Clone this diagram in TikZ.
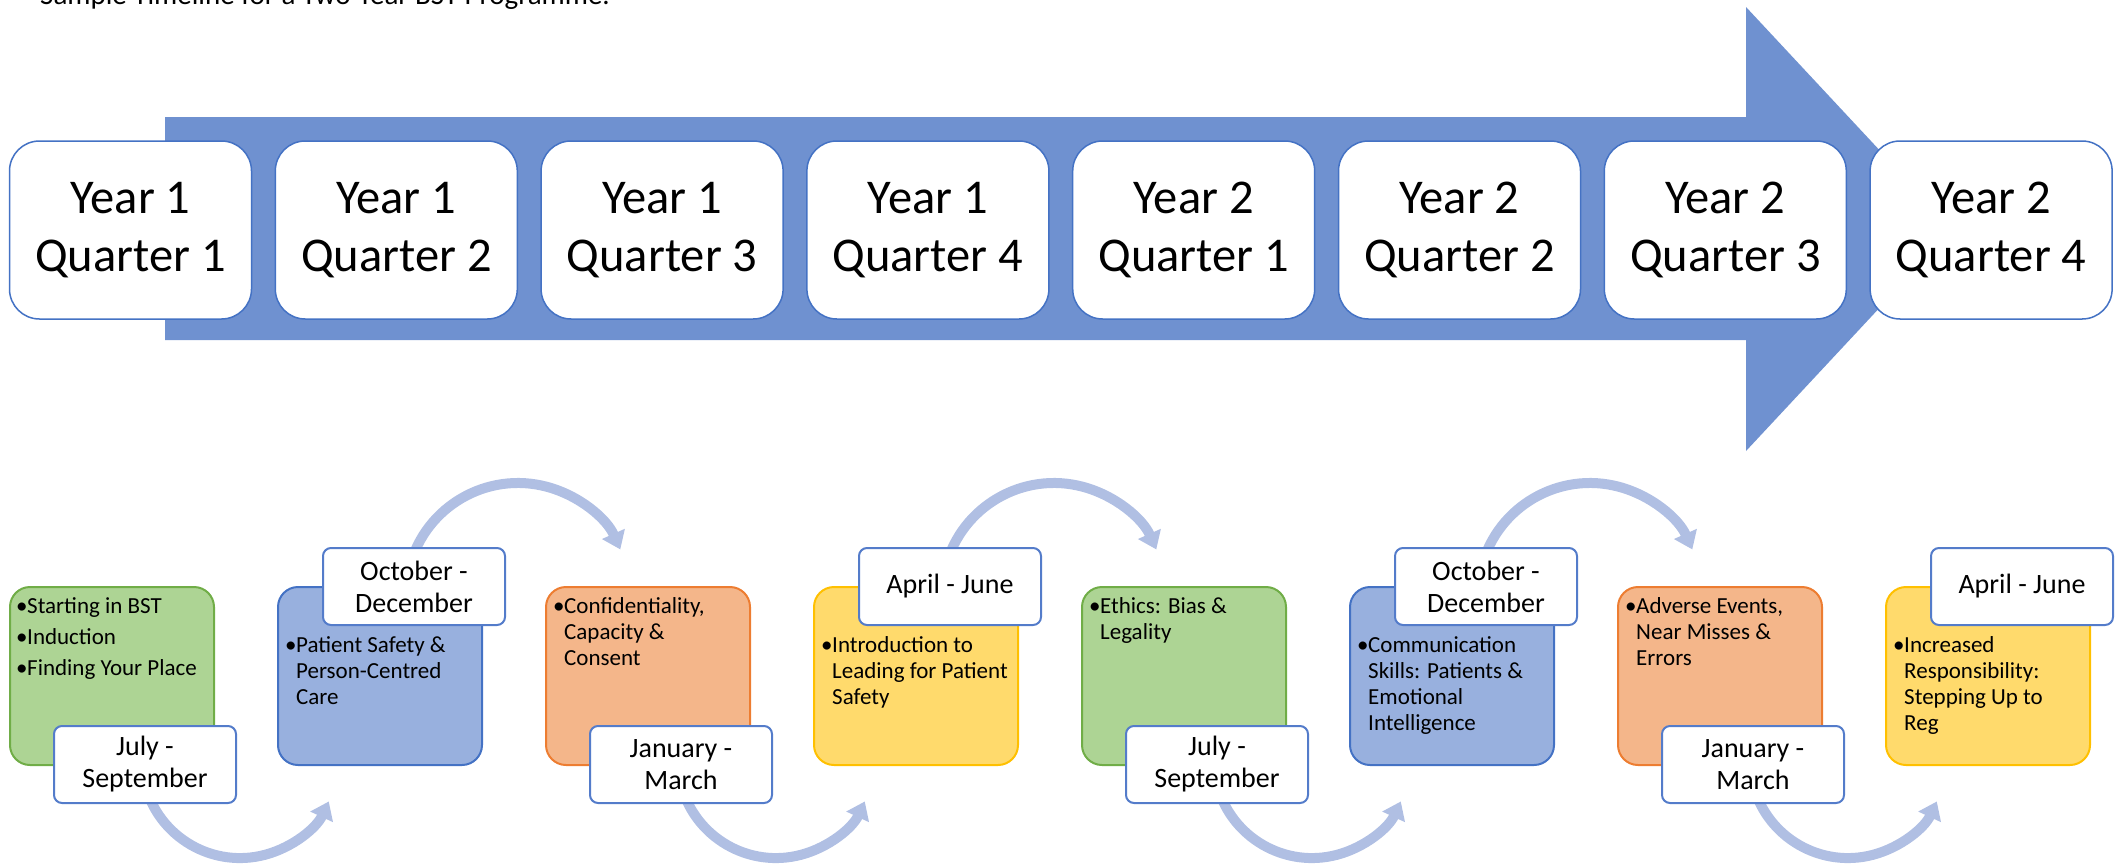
\documentclass[tikz,border=0pt]{standalone}
\usepackage{fontspec}
\setmainfont{Carlito}
\usetikzlibrary{arrows.meta}
\definecolor{arrowblue}{RGB}{111,145,208}
\definecolor{boxline}{RGB}{68,114,196}
\definecolor{lblline}{RGB}{84,124,202}
\definecolor{arcblue}{RGB}{176,191,227}
\definecolor{gfill}{RGB}{173,212,148}
\definecolor{gline}{RGB}{112,173,71}
\definecolor{bfill}{RGB}{152,176,222}
\definecolor{bline}{RGB}{68,114,196}
\definecolor{ofill}{RGB}{244,182,138}
\definecolor{oline}{RGB}{237,125,49}
\definecolor{yfill}{RGB}{255,218,108}
\definecolor{yline}{RGB}{255,192,0}
\newcommand{\bul}[1]{\par\hangindent=11pt\hangafter=1\noindent\makebox[11pt][l]{•}#1}
\newcommand{\btxt}[1]{\parbox[t]{195pt}{\setlength{\parskip}{5pt}#1}}
\begin{document}
\begin{tikzpicture}[x=1pt,y=-1pt,
  topbox/.style={draw=boxline, line width=1.5pt, fill=white, rounded corners=30pt,
    minimum width=242pt, minimum height=178pt, align=center,
    font=\fontsize{48.5}{58}\selectfont, inner sep=0pt},
  cbox/.style={line width=2pt, rounded corners=20pt, minimum width=204pt,
    minimum height=178pt, inner sep=0pt},
  lbl/.style={draw=lblline, line width=2pt, fill=white, rounded corners=8pt,
    minimum width=182pt, minimum height=77pt, align=center,
    font=\fontsize{28}{32}\selectfont, inner sep=0pt},
  btext/.style={anchor=base west, inner sep=0pt, font=\fontsize{23}{26}\selectfont},
  arcarrow/.style={draw=arcblue, line width=10pt, -{Triangle[width=24pt,length=17pt]}}
]
\useasboundingbox (0,0) rectangle (2120,865);

% title (cut by the page edge, as in the reference)
\node[anchor=base west, inner sep=0pt, font=\fontsize{29}{35}\selectfont] (title) at (40,4)
  {Sample Timeline for a Two-Year BST Programme.};

% big arrow
\fill[arrowblue] (165,117) -- (1746,117) -- (1746,7) -- (1953,229) -- (1746,451)
  -- (1746,340) -- (165,340) -- cycle;

% top row
\node[topbox] (q1) at (130.5,230) {Year 1\\Quarter 1};
\node[topbox] (q2) at (396.3,230) {Year 1\\Quarter 2};
\node[topbox] (q3) at (662.1,230) {Year 1\\Quarter 3};
\node[topbox] (q4) at (927.9,230) {Year 1\\Quarter 4};
\node[topbox] (q5) at (1193.7,230) {Year 2\\Quarter 1};
\node[topbox] (q6) at (1459.5,230) {Year 2\\Quarter 2};
\node[topbox] (q7) at (1725.3,230) {Year 2\\Quarter 3};
\node[topbox] (q8) at (1991.1,230) {Year 2\\Quarter 4};

% curved arrows
\coordinate (ba1) at (145.3,785.4);
\coordinate (ba2) at (681.3,785.4);
\coordinate (ba3) at (1217.3,785.4);
\coordinate (ba4) at (1753.3,785.4);
\coordinate (ta1) at (409.8,566);
\coordinate (ta2) at (945.8,566);
\coordinate (ta3) at (1481.8,566);
\draw[arcarrow] (ba1) arc[start angle=165, end angle=25, radius=98];
\draw[arcarrow] (ba2) arc[start angle=165, end angle=25, radius=98];
\draw[arcarrow] (ba3) arc[start angle=165, end angle=25, radius=98];
\draw[arcarrow] (ba4) arc[start angle=165, end angle=25, radius=98];
\draw[arcarrow] (ta1) arc[start angle=195, end angle=336, radius=112];
\draw[arcarrow] (ta2) arc[start angle=195, end angle=336, radius=112];
\draw[arcarrow] (ta3) arc[start angle=195, end angle=336, radius=112];

% coloured boxes
\node[cbox, fill=gfill, draw=gline] (bA) at (112,676) {};
\node[cbox, fill=bfill, draw=bline] (bB) at (380,676) {};
\node[cbox, fill=ofill, draw=oline] (bC) at (648,676) {};
\node[cbox, fill=yfill, draw=yline] (bD) at (916,676) {};
\node[cbox, fill=gfill, draw=gline] (bE) at (1184,676) {};
\node[cbox, fill=bfill, draw=bline] (bF) at (1452,676) {};
\node[cbox, fill=ofill, draw=oline] (bG) at (1720,676) {};
\node[cbox, fill=yfill, draw=yline] (bH) at (1988,676) {};

% texts
\node[btext] (tA) at (16,613) {\btxt{\bul{Starting in BST}\bul{Induction}\bul{Finding Your Place}}};
\node[btext] (tB) at (285,652) {\btxt{\bul{Patient Safety \&\\Person-Centred\\Care}}};
\node[btext] (tC) at (553,613) {\btxt{\bul{Confidentiality,\\Capacity \&\\Consent}}};
\node[btext] (tD) at (821,652) {\btxt{\bul{Introduction to\\Leading for Patient\\Safety}}};
\node[btext] (tE) at (1089,613) {\btxt{\bul{Ethics: Bias \&\\Legality}}};
\node[btext] (tF) at (1357,652) {\btxt{\bul{Communication\\Skills: Patients \&\\Emotional\\Intelligence}}};
\node[btext] (tG) at (1625,613) {\btxt{\bul{Adverse Events,\\Near Misses \&\\Errors}}};
\node[btext] (tH) at (1893,652) {\btxt{\bul{Increased\\Responsibility:\\Stepping Up to\\Reg}}};

% date labels
\node[lbl] (lA) at (145,764.5) {July -\\September};
\node[lbl] (lB) at (414,586.5) {October -\\December};
\node[lbl] (lC) at (681,764.5) {January -\\March};
\node[lbl] (lD) at (950,586.5) {April - June};
\node[lbl] (lE) at (1217,764.5) {July -\\September};
\node[lbl] (lF) at (1486,586.5) {October -\\December};
\node[lbl] (lG) at (1753,764.5) {January -\\March};
\node[lbl] (lH) at (2022,586.5) {April - June};
\end{tikzpicture}
\end{document}
